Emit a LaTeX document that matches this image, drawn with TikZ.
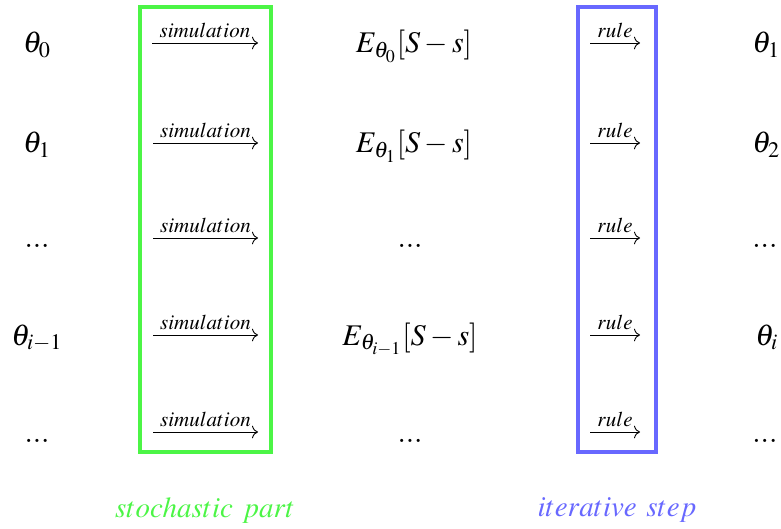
\documentclass[tikz,border=0pt]{standalone}
\usepackage{mathptmx}
\usetikzlibrary{arrows.meta}
\definecolor{simgreen}{RGB}{76,245,70}
\definecolor{ruleblue}{RGB}{104,104,255}

\begin{document}
\begin{tikzpicture}[
  x=0.5pt, y=-0.5pt,
  every node/.style={font=\fontsize{15}{18}\selectfont, inner sep=0pt},
  val/.style={anchor=base},
  nextval/.style={anchor=base west},
  lbl/.style={above=2.5pt, font=\fontsize{10.5}{12}\selectfont},
  arrow/.style={-{To[length=3pt]}, line width=0.45pt},
  part/.style={line width=2pt},
  caption/.style={font=\fontsize{14.5}{17}\selectfont}
]
\useasboundingbox (0,0) rectangle (781,529);

% Left column: current parameter
\node[val] (t0) at (37,53)  {$\theta_0$};
\node[val] (t1) at (37,153) {$\theta_1$};
\node[val] (t2) at (37,248) {$...$};
\node[val] (t3) at (37,345) {$\theta_{i-1}$};
\node[val] (t4) at (37,442) {$...$};

% Middle column: estimated expectation
\node[val] (e0) at (414,53)  {$E_{\theta_0}[S-s]$};
\node[val] (e1) at (414,153) {$E_{\theta_1}[S-s]$};
\node[val] (e2) at (410,248) {$...$};
\node[val] (e3) at (410,345) {$E_{\theta_{i-1}}[S-s]$};
\node[val] (e4) at (410,442) {$...$};

% Right column: next parameter
\node[nextval] (n0) at (752,53)  {$\theta_1$};
\node[nextval] (n1) at (752,153) {$\theta_2$};
\node[nextval] (n2) at (752,248) {$...$};
\node[nextval] (n3) at (755,345) {$\theta_i$};
\node[nextval] (n4) at (752,442) {$...$};

% Arrow ends
\coordinate (sa0) at (152,43);  \coordinate (sb0) at (258,43);
\coordinate (sa1) at (153,143); \coordinate (sb1) at (258,143);
\coordinate (sa2) at (153,238); \coordinate (sb2) at (258,238);
\coordinate (sa3) at (153,335); \coordinate (sb3) at (258,335);
\coordinate (sa4) at (153,432); \coordinate (sb4) at (258,432);
\coordinate (ra0) at (590,43);  \coordinate (rb0) at (640,43);
\coordinate (ra1) at (590,143); \coordinate (rb1) at (640,143);
\coordinate (ra2) at (590,238); \coordinate (rb2) at (640,238);
\coordinate (ra3) at (590,335); \coordinate (rb3) at (640,335);
\coordinate (ra4) at (590,432); \coordinate (rb4) at (640,432);

% Simulation arrows
\draw[arrow] (sa0) -- (sb0) node[lbl, midway] {$simulation$};
\draw[arrow] (sa1) -- (sb1) node[lbl, midway] {$simulation$};
\draw[arrow] (sa2) -- (sb2) node[lbl, midway] {$simulation$};
\draw[arrow] (sa3) -- (sb3) node[lbl, midway] {$simulation$};
\draw[arrow] (sa4) -- (sb4) node[lbl, midway] {$simulation$};

% Rule arrows
\draw[arrow] (ra0) -- (rb0) node[lbl, midway] {$rule$};
\draw[arrow] (ra1) -- (rb1) node[lbl, midway] {$rule$};
\draw[arrow] (ra2) -- (rb2) node[lbl, midway] {$rule$};
\draw[arrow] (ra3) -- (rb3) node[lbl, midway] {$rule$};
\draw[arrow] (ra4) -- (rb4) node[lbl, midway] {$rule$};

% Frames
\draw[part, simgreen] (140,7) rectangle (271,452);
\draw[part, ruleblue] (578,7) rectangle (656,452);

% Captions
\node[caption, text=simgreen] (simcap)  at (205,510) {$stochastic\ part$};
\node[caption, text=ruleblue] (rulecap) at (617,510) {$iterative\ step$};

\end{tikzpicture}
\end{document}
